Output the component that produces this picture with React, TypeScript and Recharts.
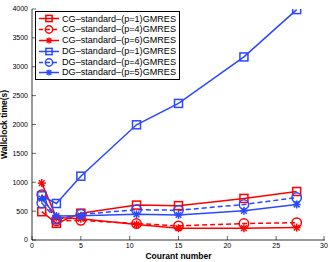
import { LineChart, Line, XAxis, YAxis, Legend, Label } from 'recharts';

const courant = [1, 2.5, 5, 10.7, 15, 21.7, 27.1];
const cgP1 = [490, 288, 465, 605, 595, 720, 840];
const cgP4 = [785, 330, 340, 285, 245, 285, 300];
const cgP6 = [985, 390, 370, 270, 205, 205, 215];
const dgP1 = [765, 632, 1105, 1995, 2365, 3170, 3990];
const dgP4 = [640, 358, 445, 525, 515, 615, 735];
const dgP5 = [715, 415, 420, 445, 435, 505, 615];

const xTicks = [0, 5, 10, 15, 20, 25, 30];
const yTicks = [0, 500, 1000, 1500, 2000, 2500, 3000, 3500, 4000];

const RED = '#ff0000';
const BLUE = '#2a48ff';
const FONT = '"Liberation Sans", Arial, sans-serif';

const toRows = (ys: number[]) => courant.map((x, i) => ({ x, y: ys[i] }));

type Marker = 'square' | 'circle' | 'star';

const series = [
  { name: 'CG\u2013standard\u2013(p=1)GMRES', values: cgP1, color: RED, marker: 'square' as Marker, dashed: false },
  { name: 'CG\u2013standard\u2013(p=4)GMRES', values: cgP4, color: RED, marker: 'circle' as Marker, dashed: true },
  { name: 'CG\u2013standard\u2013(p=6)GMRES', values: cgP6, color: RED, marker: 'star' as Marker, dashed: false },
  { name: 'DG\u2013standard\u2013(p=1)GMRES', values: dgP1, color: BLUE, marker: 'square' as Marker, dashed: false },
  { name: 'DG\u2013standard\u2013(p=4)GMRES', values: dgP4, color: BLUE, marker: 'circle' as Marker, dashed: true },
  { name: 'DG\u2013standard\u2013(p=5)GMRES', values: dgP5, color: BLUE, marker: 'star' as Marker, dashed: false },
];

function MarkerShape({ cx, cy, kind, color, s = 1 }: { cx: number; cy: number; kind: Marker; color: string; s?: number }) {
  if (kind === 'square') {
    return <rect x={cx - 4 * s} y={cy - 4 * s} width={8 * s} height={8 * s} fill="none" stroke={color} strokeWidth={1.5} />;
  }
  if (kind === 'circle') {
    return <circle cx={cx} cy={cy} r={4.7 * s} fill="none" stroke={color} strokeWidth={1.5} />;
  }
  const r = 4 * s;
  const d = r * 0.72;
  return (
    <g stroke={color} strokeWidth={1.5}>
      <line x1={cx - r} y1={cy} x2={cx + r} y2={cy} />
      <line x1={cx} y1={cy - r} x2={cx} y2={cy + r} />
      <line x1={cx - d} y1={cy - d} x2={cx + d} y2={cy + d} />
      <line x1={cx - d} y1={cy + d} x2={cx + d} y2={cy - d} />
    </g>
  );
}

const makeDot = (kind: Marker, color: string) => (props: any) => {
  const { cx, cy, index } = props;
  if (cx == null || cy == null) return <g key={index} />;
  return (
    <g key={`${kind}-${color}-${index}`}>
      <MarkerShape cx={cx} cy={cy} kind={kind} color={color} />
    </g>
  );
};

const LeftTick = (props: any) => {
  const { x, y, payload } = props;
  const ax = x + 4;
  return (
    <g>
      <line x1={ax} y1={y} x2={ax + 4} y2={y} stroke="#000" strokeWidth={0.6} />
      <text x={x} y={y} dy="0.35em" textAnchor="end" fontSize={7} fontFamily={FONT} fill="#000">
        {payload.value}
      </text>
    </g>
  );
};

const BottomTick = (props: any) => {
  const { x, y, payload } = props;
  const ay = y - 3;
  return (
    <g>
      <line x1={x} y1={ay} x2={x} y2={ay - 4} stroke="#000" strokeWidth={0.6} />
      <text x={x} y={y} dy="0.71em" textAnchor="middle" fontSize={7} fontFamily={FONT} fill="#000">
        {payload.value}
      </text>
    </g>
  );
};

const RightTick = (props: any) => {
  const { x, y } = props;
  return <line x1={x} y1={y} x2={x - 4} y2={y} stroke="#000" strokeWidth={0.6} />;
};

const TopTick = (props: any) => {
  const { x, y } = props;
  return <line x1={x} y1={y} x2={x} y2={y + 4} stroke="#000" strokeWidth={0.6} />;
};

const LegendBox = () => (
  <div
    style={{
      border: '1px solid #000',
      background: '#fff',
      padding: '1.5px 3px 0.5px 2px',
      fontFamily: FONT,
      fontSize: 9.1,
      lineHeight: '10.8px',
      width: 'fit-content',
      boxSizing: 'border-box',
    }}
  >
    {series.map((s) => (
      <div key={s.name} style={{ display: 'flex', alignItems: 'center', whiteSpace: 'nowrap', height: 10.8 }}>
        <svg width={22} height={11} style={{ marginRight: 2, flex: 'none' }}>
          <line
            x1={1}
            y1={5.5}
            x2={21}
            y2={5.5}
            stroke={s.color}
            strokeWidth={1.5}
            strokeDasharray={s.dashed ? '4 3' : undefined}
          />
          <MarkerShape cx={11} cy={5.5} kind={s.marker} color={s.color} s={0.78} />
        </svg>
        <span>{s.name}</span>
      </div>
    ))}
  </div>
);

export default function App() {
  return (
    <div style={{ position: 'absolute', left: 0, top: 0, width: 332, height: 262, background: '#fff' }}>
      <LineChart width={332} height={262} margin={{ top: 9, right: 7, left: 0, bottom: 0 }}>
        <XAxis
          xAxisId="b"
          dataKey="x"
          type="number"
          domain={[0, 30]}
          ticks={xTicks}
          height={22}
          tickSize={0}
          tickMargin={3}
          tick={<BottomTick />}
          axisLine={{ stroke: '#000', strokeWidth: 0.8 }}
          allowDataOverflow
        >
          <Label
            value="Courant number"
            position="insideBottom"
            offset={3}
            style={{ fontFamily: FONT, fontSize: 8.5, fontWeight: 'bold', fill: '#000' }}
          />
        </XAxis>
        <XAxis
          xAxisId="t"
          orientation="top"
          dataKey="x"
          type="number"
          domain={[0, 30]}
          ticks={xTicks}
          height={0}
          tickSize={0}
          tickMargin={0}
          tick={<TopTick />}
          axisLine={{ stroke: '#000', strokeWidth: 0.8 }}
          allowDataOverflow
        />
        <YAxis
          yAxisId="l"
          type="number"
          domain={[0, 4000]}
          ticks={yTicks}
          width={32}
          tickSize={0}
          tickMargin={4}
          tick={<LeftTick />}
          axisLine={{ stroke: '#000', strokeWidth: 0.8 }}
          allowDataOverflow
        >
          <Label
            value="Wallclock time(s)"
            position="insideLeft"
            angle={-90}
            offset={4}
            style={{ fontFamily: FONT, fontSize: 8.5, fontWeight: 'bold', fill: '#000', textAnchor: 'middle' }}
          />
        </YAxis>
        <YAxis
          yAxisId="r"
          orientation="right"
          type="number"
          domain={[0, 4000]}
          ticks={yTicks}
          width={0}
          tickSize={0}
          tickMargin={0}
          tick={<RightTick />}
          axisLine={{ stroke: '#000', strokeWidth: 0.8 }}
          allowDataOverflow
        />
        {series.map((s) => (
          <Line
            key={s.name}
            xAxisId="b"
            yAxisId="l"
            data={toRows(s.values)}
            dataKey="y"
            name={s.name}
            stroke={s.color}
            strokeWidth={1.5}
            strokeDasharray={s.dashed ? '5 3' : undefined}
            dot={makeDot(s.marker, s.color)}
            activeDot={false}
            isAnimationActive={false}
          />
        ))}
        <Line
          xAxisId="t"
          yAxisId="r"
          data={toRows(dgP1)}
          dataKey="y"
          stroke="none"
          dot={false}
          activeDot={false}
          legendType="none"
          isAnimationActive={false}
        />
        <Legend
          verticalAlign="middle"
          align="center"
          layout="horizontal"
          content={<LegendBox />}
          wrapperStyle={{ position: 'absolute', left: 35, top: 11, width: 'auto' }}
        />
      </LineChart>
    </div>
  );
}
